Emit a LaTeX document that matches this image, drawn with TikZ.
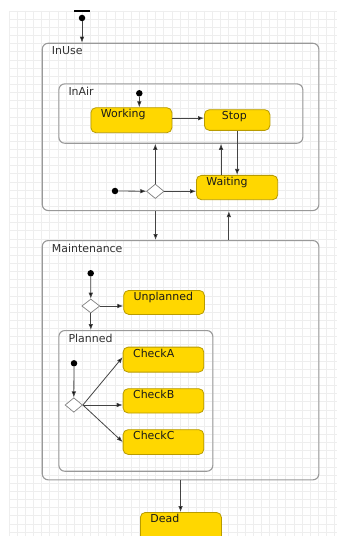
\documentclass[tikz,border=0pt]{standalone}
\usepackage{fontspec}
\setmainfont{DejaVu Sans}
\usetikzlibrary{arrows.meta,shapes.geometric}
\definecolor{stfill}{HTML}{FFD700}
\definecolor{stdraw}{HTML}{B89B00}
\definecolor{boxdraw}{HTML}{999999}
\definecolor{gridc}{HTML}{EEEEEE}
\definecolor{wire}{HTML}{444444}
\definecolor{ink}{HTML}{1A1A1A}

\begin{document}
\begin{tikzpicture}[x=1bp,y=-1bp,
  font=\fontsize{11}{13}\selectfont,
  statebox/.style={draw=stdraw, fill=stfill, line width=0.8bp, rounded corners=5bp,
    anchor=north west, inner xsep=10bp, inner ysep=2bp, text height=8bp,
    align=left, text=ink},
  region/.style={draw=boxdraw, line width=1.1bp, rounded corners=6bp,
    anchor=north west, inner sep=0pt},
  rlabel/.style={label={[anchor=base west, inner sep=0pt, xshift=10bp,
    yshift=-12bp, text=ink!90]north west:#1}},
  dot/.style={circle, fill=black, inner sep=0pt, minimum size=6.5bp},
  choice/.style={diamond, draw=gray, fill=white, line width=0.7bp, inner sep=0pt,
    minimum width=17.5bp, minimum height=14.5bp},
  arr/.style={draw=wire, line width=0.8bp, -{Latex[length=6bp,width=4.6bp,fill=black]}},
]
% canvas and background grid
\useasboundingbox (0,0) rectangle (337,536);
\fill[white] (0,0) rectangle (337,536);
\foreach \i in {0,...,40} {
  \draw[gridc, line width=0.6bp] ({9+\i*8.14},11) -- ({9+\i*8.14},536);
}
\foreach \j in {0,...,64} {
  \draw[gridc, line width=0.6bp] (9,{11+\j*8.14}) -- (337,{11+\j*8.14});
}
\draw[line width=1.6bp] (74,11) -- (90,11);

% composite states
\node[region, minimum width=276.6bp, minimum height=167.3bp, rlabel=InUse] (inuse) at (41.7,42.7) {};
\node[region, minimum width=244bp, minimum height=59.4bp, rlabel=InAir] (inair) at (58.3,83.3) {};
\node[region, minimum width=276.6bp, minimum height=239.3bp, rlabel=Maintenance] (maint) at (41.7,240) {};
\node[region, minimum width=154bp, minimum height=140.7bp, rlabel=Planned] (planned) at (58.3,330) {};

% simple states
\node[statebox, text width=61bp, text depth=13bp] (working) at (90.5,107.3) {Working};
\node[statebox, inner xsep=17.5bp, text width=30.5bp, text depth=8.7bp] (stop) at (204,109.3) {Stop};
\node[statebox, text width=61.3bp, text depth=12.3bp] (waiting) at (196,175) {Waiting};
\node[statebox, text width=60.7bp, text depth=12bp] (unpl) at (123.3,290) {Unplanned};
\node[statebox, text width=60.7bp, text depth=13bp] (checka) at (122.7,346.7) {CheckA};
\node[statebox, text width=60.7bp, text depth=12.3bp] (checkb) at (122.7,388.3) {CheckB};
\node[statebox, text width=60.7bp, text depth=12.7bp] (checkc) at (122.7,429.3) {CheckC};
\node[statebox, text width=61bp, text depth=18bp] (dead) at (140,512) {Dead};

% pseudo states
\node[dot] (i0) at (82,18) {};
\node[dot] (i1) at (139.3,93.3) {};
\node[dot] (i2) at (115,191) {};
\node[dot] (i3) at (90.7,273.3) {};
\node[dot] (i4) at (74,363.3) {};
\node[choice] (d1) at (155.3,191.3) {};
\node[choice, minimum width=18bp, minimum height=14bp] (d2) at (90.8,306) {};
\node[choice] (d3) at (73.8,405) {};

% transitions
\draw[arr] (i0) -- (i0 |- inuse.north);
\draw[arr] (i1) -- (i1 |- working.north);
\draw[arr] ([yshift=2bp]working.east) -- ([yshift=2bp]working.east -| stop.west);
\draw[arr] (stop.south) -- (stop.south |- waiting.north);
\draw[arr] ([xshift=-16bp]waiting.north) -- ([xshift=-16bp]waiting.north |- inair.south);
\draw[arr] (i2) -- (d1);
\draw[arr] (d1.east) -- (d1.east -| waiting.west);
\draw[arr] (d1.north) -- (d1.north |- inair.south);
\draw[arr] ([xshift=-25bp]inuse.south) -- ([xshift=-25bp]maint.north);
\draw[arr] ([xshift=48.3bp]maint.north) -- ([xshift=48.3bp]inuse.south);
\draw[arr] (i3) -- (d2.north);
\draw[arr] (d2.east) -- (d2.east -| unpl.west);
\draw[arr] (d2.south) -- (d2.south |- planned.north);
\draw[arr] (i4) -- (d3.north);
\draw[arr] (d3.east) -- ([yshift=2.5bp]checka.west);
\draw[arr] (d3.east) -- (d3.east -| checkb.west);
\draw[arr] (d3.east) -- (checkc.west);
\draw[arr] (maint.south) -- (maint.south |- dead.north);
\end{tikzpicture}
\end{document}
